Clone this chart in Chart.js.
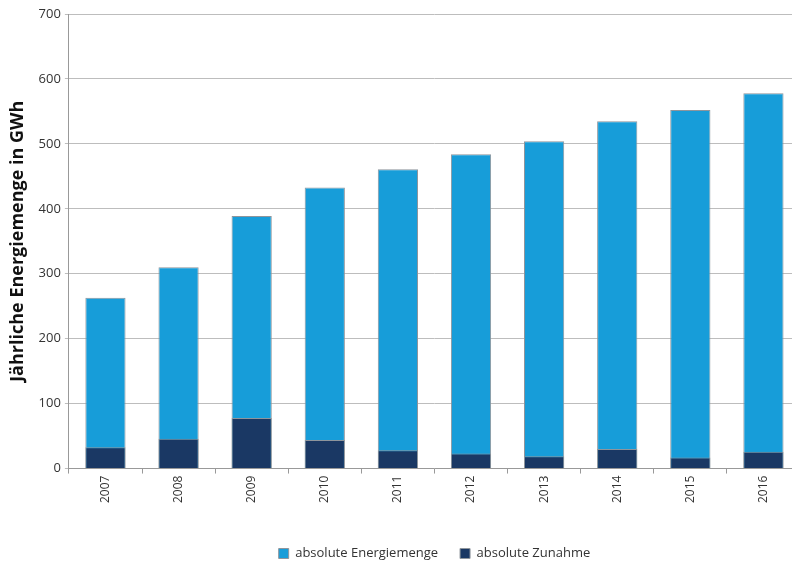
<!DOCTYPE html>
<html>
<head>
<meta charset="utf-8">
<script src="https://cdn.jsdelivr.net/npm/chart.js@4"></script>
<style>
  html, body { margin: 0; padding: 0; background: #fff; overflow: hidden; }
  #wrap { width: 800px; height: 572px; }
</style>
</head>
<body>
<div id="wrap"><canvas id="myChart"></canvas></div>
<script>
// Jahre und Werte (GWh)
const years = ['2007', '2008', '2009', '2010', '2011', '2012', '2013', '2014', '2015', '2016'];
const energiemenge = [263, 310, 389, 433, 461, 484, 504, 535, 552, 578];
const zunahme = [33, 46, 78, 44, 28, 23, 19, 30, 17, 26];

const fontFamily = "'Open Sans', 'Liberation Sans', sans-serif";
Chart.defaults.font.family = fontFamily;
Chart.defaults.color = '#333';

var ctx = document.getElementById('myChart').getContext('2d');

// Zunahme wird vor die Gesamtmenge gelegt (gleiche Kategorie, nicht gestapelt)
new Chart(ctx, {
  type: 'bar',
  data: {
    labels: years,
    datasets: [{
      label: 'absolute Energiemenge',
      data: energiemenge,
      backgroundColor: '#179dd9',
      borderColor: '#8e959c',
      borderWidth: 1,
      order: 2
    }, {
      label: 'absolute Zunahme',
      data: zunahme,
      backgroundColor: '#1a3864',
      borderColor: '#8e959c',
      borderWidth: 1,
      order: 1
    }]
  },
  options: {
    responsive: true,
    maintainAspectRatio: false,
    animation: false,
    datasets: {
      bar: { categoryPercentage: 0.55, barPercentage: 1.0 }
    },
    layout: { padding: { top: 14, left: 7, right: 0, bottom: 2 } },
    scales: {
      x: {
        stacked: true,
        grid: { drawOnChartArea: false, drawTicks: true, tickLength: 5, color: '#999' },
        border: { color: '#999' },
        ticks: {
          minRotation: 90,
          maxRotation: 90,
          padding: 2,
          font: { size: 12 }
        },
        // mehr Abstand zwischen Achsenbeschriftung und Legende
        afterFit: function(scale) { scale.height += 20; }
      },
      y: {
        stacked: false,
        min: 0,
        max: 700,
        ticks: { stepSize: 100, padding: 4, font: { size: 13 } },
        grid: { color: '#bdbdbd', tickLength: 4 },
        border: { color: '#999' },
        title: {
          display: true,
          text: 'Jährliche Energiemenge in GWh',
          font: { size: 18, weight: 'bold' },
          color: '#111',
          padding: { top: 0, bottom: 6 }
        }
      }
    },
    plugins: {
      legend: {
        position: 'bottom',
        fullSize: false,
        labels: {
          boxWidth: 10,
          boxHeight: 10,
          padding: 22,
          font: { size: 13 },
          color: '#333',
          sort: (a, b) => a.datasetIndex - b.datasetIndex
        }
      },
      tooltip: { enabled: false }
    }
  }
});
</script>
</body>
</html>
